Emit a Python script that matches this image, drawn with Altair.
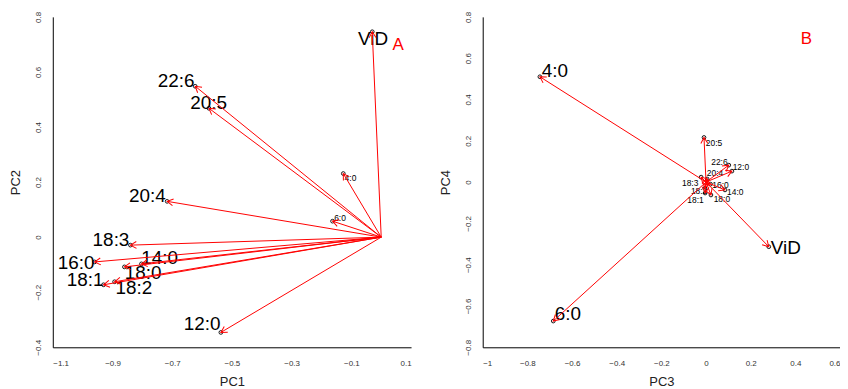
import math
import altair as alt
import pandas as pd

# ---------------- Panel A (PC1 vs PC2) ----------------
A_names = ["ViD", "22:6", "20:5", "4:0", "6:0", "20:4", "18:3", "16:0", "14:0", "18:0", "18:2", "18:1", "12:0"]
A_x = [-0.030, -0.623, -0.577, -0.127, -0.163, -0.717, -0.840, -0.960, -0.803, -0.860, -0.893, -0.930, -0.537]
A_y = [0.746, 0.548, 0.468, 0.231, 0.058, 0.130, -0.029, -0.090, -0.097, -0.108, -0.162, -0.173, -0.346]
A_lx = [-0.027, -0.687, -0.578, -0.103, -0.138, -0.783, -0.905, -1.022, -0.742, -0.797, -0.828, -0.992, -0.600]
A_ly = [0.721, 0.566, 0.486, 0.213, 0.068, 0.151, -0.011, -0.094, -0.076, -0.130, -0.184, -0.155, -0.317]
A_big = [1, 1, 1, 0, 0, 1, 1, 1, 1, 1, 1, 1, 1]
A_xticks = [-1.1, -0.9, -0.7, -0.5, -0.3, -0.1, 0.1]
A_yticks = [-0.4, -0.2, 0, 0.2, 0.4, 0.6, 0.8]

# ---------------- Panel B (PC3 vs PC4) ----------------
B_names = ["4:0", "6:0", "ViD", "20:5", "22:6", "12:0", "14:0", "18:0", "18:1", "18:3", "20:4", "16:0", "18:2"]
B_x = [-0.744, -0.684, 0.281, -0.009, 0.102, 0.116, 0.085, 0.022, -0.004, -0.022, 0.005, 0.020, -0.005]
B_y = [0.510, -0.673, -0.313, 0.216, 0.082, 0.053, -0.038, -0.0625, -0.053, 0.024, 0.015, -0.010, -0.030]
B_lx = [-0.677, -0.619, 0.357, 0.036, 0.060, 0.156, 0.131, 0.071, -0.047, -0.071, 0.040, 0.065, -0.031]
B_ly = [0.538, -0.639, -0.317, 0.1875, 0.096, 0.072, -0.048, -0.082, -0.087, -0.005, 0.043, -0.014, -0.043]
B_big = [1, 1, 1, 0, 0, 0, 0, 0, 0, 0, 0, 0, 0]
B_xticks = [-1, -0.8, -0.6, -0.4, -0.2, 0, 0.2, 0.4, 0.6]
B_yticks = [-0.8, -0.6, -0.4, -0.2, 0, 0.2, 0.4, 0.6, 0.8]

FONT = "Liberation Sans"
W, H = 360, 332


def panel(names, xs, ys, lxs, lys, big, xdom, ydom, xticks, yticks,
          xtitle, ytitle, letter, letter_x, letter_y, width):
    sx = width / (xdom[1] - xdom[0])
    sy = H / (ydom[1] - ydom[0])
    df = pd.DataFrame({
        "name": names, "x": xs, "y": ys, "lx": lxs, "ly": lys,
        "x0": [0.0] * len(names), "y0": [0.0] * len(names),
        "fs": [19 if b else 8.5 for b in big],
    })
    df["ang"] = [(math.degrees(math.atan2(-y * sy, x * sx)) + 360) % 360 for x, y in zip(xs, ys)]

    xscale = alt.Scale(domain=xdom, nice=False, zero=False)
    yscale = alt.Scale(domain=ydom, nice=False, zero=False)
    xaxis = alt.Axis(values=xticks, title=xtitle, format=".1~f", labelPadding=12,
                     titlePadding=8, ticks=False, tickSize=0, grid=False)
    yaxis = alt.Axis(values=yticks, title=ytitle, format=".1~f", labelAngle=270,
                     labelAlign="center", labelBaseline="bottom", labelPadding=10,
                     titlePadding=12, ticks=False, tickSize=0, grid=False)

    def X(f):
        return alt.X(f"{f}:Q", scale=xscale, axis=xaxis)

    def Y(f):
        return alt.Y(f"{f}:Q", scale=yscale, axis=yaxis)

    base = alt.Chart(df)
    text = base.mark_text(font=FONT, align="center", baseline="middle", color="black").encode(
        x=X("lx"), y=Y("ly"), text="name:N", size=alt.Size("fs:Q", scale=None))
    pts = base.mark_point(shape="circle", filled=False, color="black", size=14,
                          strokeWidth=0.9, opacity=1).encode(x=X("x"), y=Y("y"))
    lines = base.mark_rule(color="#ff0000", strokeWidth=1).encode(
        x=X("x0"), y=Y("y0"), x2="x:Q", y2="y:Q")
    heads = base.mark_point(shape="M-1,-0.577L0,0L-1,0.577", filled=False, color="#ff0000",
                            size=144, strokeWidth=1, opacity=1).encode(
        x=X("x"), y=Y("y"), angle=alt.Angle("ang:Q", scale=None))
    lab = alt.Chart(pd.DataFrame({"t": [letter], "x": [letter_x], "y": [letter_y]})).mark_text(
        font=FONT, fontSize=17, color="#ff0000", align="center", baseline="middle").encode(
        x=X("x"), y=Y("y"), text="t:N")
    return alt.layer(text, pts, lines, heads, lab).properties(width=width, height=H)


pA = panel(A_names, A_x, A_y, A_lx, A_ly, A_big, [-1.1, 0.1], [-0.4, 0.8],
           A_xticks, A_yticks, "PC1", "PC2", "A", 0.057, 0.698, W)
pB = panel(B_names, B_x, B_y, B_lx, B_ly, B_big, [-1.0, 0.6], [-0.8, 0.8],
           B_xticks, B_yticks, "PC3", "PC4", "B", 0.45, 0.694, 359)

chart = alt.hconcat(pA, pB, spacing=29).properties(
    padding={"left": 2, "top": 2, "right": 0, "bottom": 0}).configure_view(
    stroke=None).configure_axis(
    domainColor="black", domainWidth=1, labelFont=FONT, labelFontSize=8,
    labelColor="#333333", titleFont=FONT, titleFontSize=13, titleFontWeight="normal",
    titleColor="#222222")

chart.save("out.html", embed_options={"renderer": "svg", "actions": False})
